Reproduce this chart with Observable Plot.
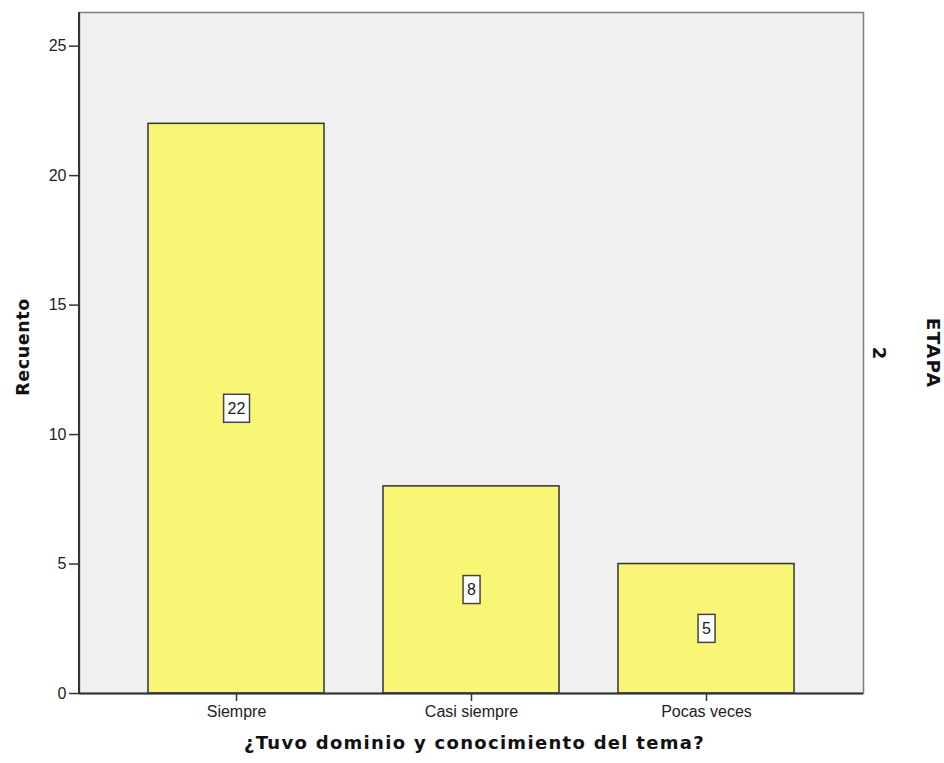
<!DOCTYPE html>
<html>
<head>
<meta charset="utf-8">
<script src="https://cdn.jsdelivr.net/npm/d3@7"></script>
<script src="https://cdn.jsdelivr.net/npm/@observablehq/plot@0.6"></script>
<style>
  html, body { margin: 0; padding: 0; background: #fff; }
  #chart svg { display: block; }
</style>
</head>
<body>
<div id="chart"></div>
<script>
const categories = ["Siempre", "Casi siempre", "Pocas veces"];
const counts = [22, 8, 5];
const yTicks = [0, 5, 10, 15, 20, 25];
const yTitle = "Recuento";
const xTitle = "¿Tuvo dominio y conocimiento del tema?";
const panelTitle = "ETAPA";
const panelValue = "2";

const data = categories.map((c, i) => ({cat: c, n: counts[i]}));

const leftLine = (index, scales, values, dims) => {
  const g = document.createElementNS("http://www.w3.org/2000/svg", "line");
  g.setAttribute("x1", dims.marginLeft);
  g.setAttribute("x2", dims.marginLeft);
  g.setAttribute("y1", dims.marginTop);
  g.setAttribute("y2", dims.height - dims.marginBottom);
  g.setAttribute("stroke", "#333");
  g.setAttribute("stroke-width", 2);
  return g;
};

const boldFont = "'DejaVu Sans', Verdana, sans-serif";

const plot = Plot.plot({
  width: 944,
  height: 763,
  marginLeft: 79,
  marginRight: 81,
  marginTop: 12,
  marginBottom: 70,
  style: {fontFamily: "'Liberation Sans', Arial, sans-serif", color: "#222", background: "#fff"},
  x: {domain: categories, paddingInner: 0.2527, paddingOuter: 0.291, label: null},
  y: {domain: [0, 26.3], label: null},
  marks: [
    Plot.frame({fill: "#f0f0f0", stroke: "#808080", strokeWidth: 1.5}),
    Plot.barY(data, {x: "cat", y: "n", fill: "#f9f675", stroke: "#333", strokeWidth: 1.5, inset: 0}),
    Plot.ruleY([0], {stroke: "#333", strokeWidth: 2}),
    leftLine,
    Plot.axisY({ticks: yTicks, tickSize: 10, tickPadding: 3, fontSize: 16, label: null, stroke: "#333", strokeWidth: 1.5}),
    Plot.axisX({tickSize: 8, tickPadding: 4, fontSize: 16, label: null, stroke: "#333", strokeWidth: 1.5}),
    Plot.text(data, {x: "cat", y: d => d.n / 2, text: d => String(d.n), fontSize: 16, fill: "#202021"}),
    Plot.text([yTitle], {frameAnchor: "left", textAnchor: "middle", dx: -56, dy: -6, rotate: -90, fontSize: 17.5, fontWeight: "bold", fontFamily: boldFont, fill: "#111112"}),
    Plot.text([xTitle], {frameAnchor: "bottom", textAnchor: "middle", dy: 55, dx: 3, fontSize: 18, fontWeight: "bold", fontFamily: boldFont, fill: "#111113"}),
    Plot.text([panelTitle], {frameAnchor: "right", textAnchor: "middle", dx: 69, dy: 0, rotate: 90, fontSize: 18.5, fontWeight: "bold", fontFamily: boldFont, fill: "#111114"}),
    Plot.text([panelValue], {frameAnchor: "right", textAnchor: "middle", dx: 15, dy: 0, rotate: 90, fontSize: 18, fontWeight: "bold", fontFamily: boldFont, fill: "#111115"})
  ]
});

document.getElementById("chart").appendChild(plot);

for (const [col, ls] of [["#111112", "0.6px"], ["#111113", "1.3px"], ["#111114", "1.2px"]]) {
  plot.querySelectorAll(`g[fill="${col}"] text`).forEach(t => t.style.letterSpacing = ls);
}

// boxes behind value labels
const lg = plot.querySelector('g[fill="#202021"]');
if (lg) {
  lg.querySelectorAll("text").forEach(t => {
    const b = t.getBBox();
    const tr = t.getAttribute("transform");
    const r = document.createElementNS("http://www.w3.org/2000/svg", "rect");
    const padX = 4;
    r.setAttribute("x", b.x - padX);
    r.setAttribute("y", b.y + b.height / 2 - 14);
    r.setAttribute("width", b.width + 2 * padX);
    r.setAttribute("height", 28);
    r.setAttribute("fill", "#fff");
    r.setAttribute("stroke", "#444");
    r.setAttribute("stroke-width", 1.5);
    if (tr) r.setAttribute("transform", tr);
    lg.insertBefore(r, t);
  });
}
</script>
</body>
</html>
